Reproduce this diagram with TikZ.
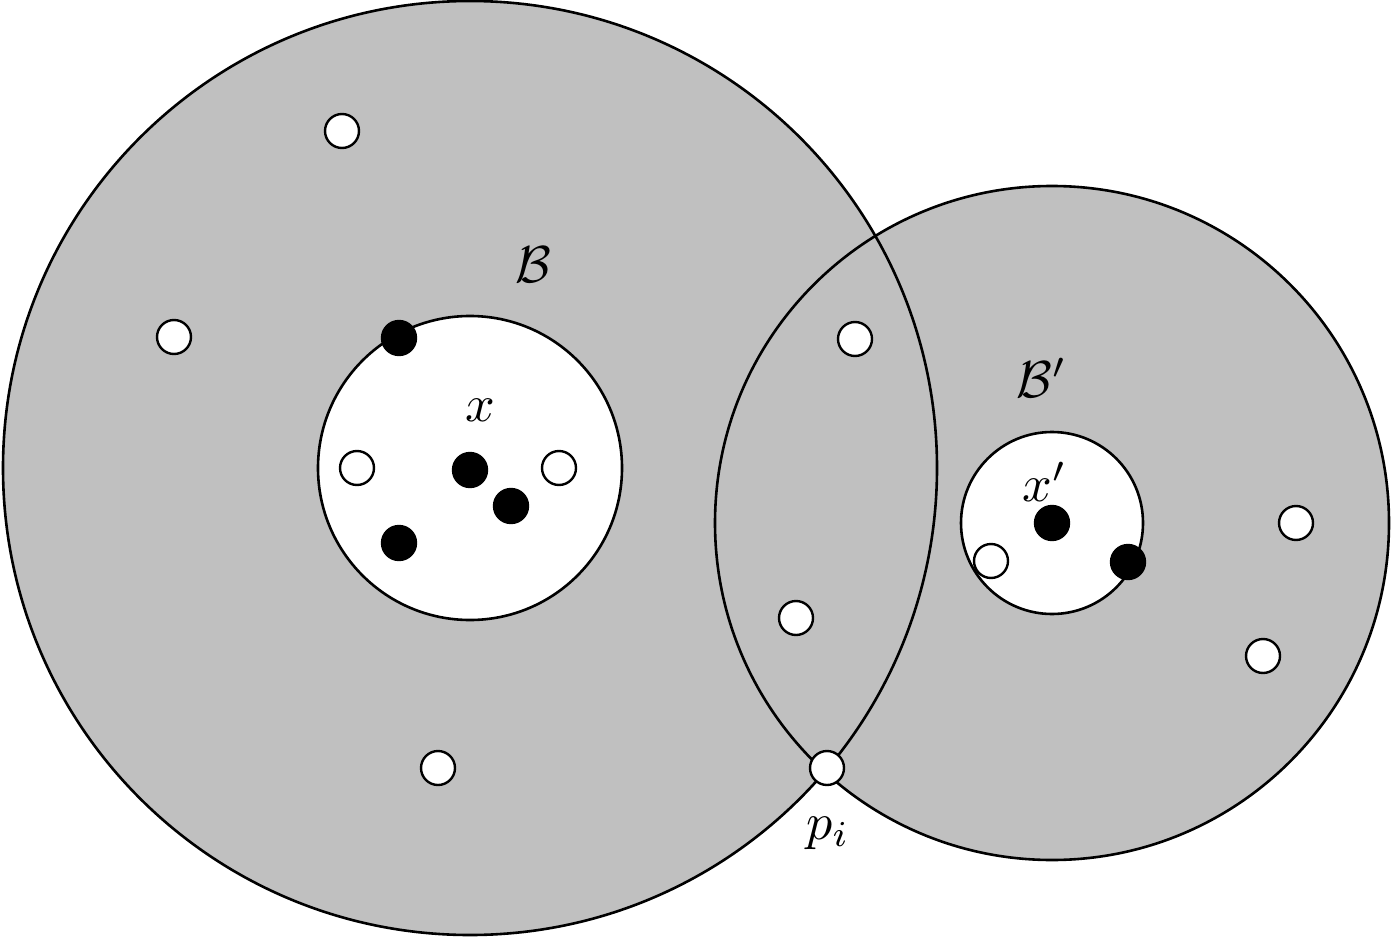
\documentclass[tikz,border=0pt]{standalone}
\begin{document}
\begin{tikzpicture}[x=1pt,y=-1pt,line width=2.6pt,
  opn/.style={circle,draw=black,fill=white,line width=2.4pt,minimum size=34pt,inner sep=0pt},
  fil/.style={circle,draw=black,fill=black,line width=2.4pt,minimum size=34pt,inner sep=0pt},
  lab/.style={scale=5.2}]
\useasboundingbox (0,0) rectangle (1391,941);
\definecolor{gr}{RGB}{192,192,192}
\coordinate (c1) at (470,468);
\coordinate (c2) at (1052,523);
\fill[gr] (c1) circle (467);
\fill[gr] (c2) circle (337);
\draw (c1) circle (467);
\draw (c2) circle (337);
\draw[fill=white] (c1) circle (152);
\draw[fill=white] (c2) circle (91);
\foreach \n/\p in {o1/{(342,131)},o2/{(174,337)},o3/{(357,468)},o4/{(559,468)},o5/{(855,339)},o6/{(796,618)},o7/{(438,768)},pi/{(827,768)},o9/{(991,561)},o10/{(1296,523)},o11/{(1263,656)}}
  \node[opn] (\n) at \p {};
\foreach \n/\p in {f1/{(399,338)},f2/{(470,470)},f3/{(511,506)},f4/{(399,543)},f5/{(1052,523)},f6/{(1128,562)}}
  \node[fil] (\n) at \p {};
\node[lab] (lb) at (533,265) {$\mathcal{B}$};
\node[lab] (lbp) at (1042,378) {$\mathcal{B}'$};
\node[lab] (lx) at (480,410) {$x$};
\node[lab] (lxp) at (1045,482) {$x'$};
\node[lab] (lpi) at (828,833) {$p_i$};
\end{tikzpicture}
\end{document}
